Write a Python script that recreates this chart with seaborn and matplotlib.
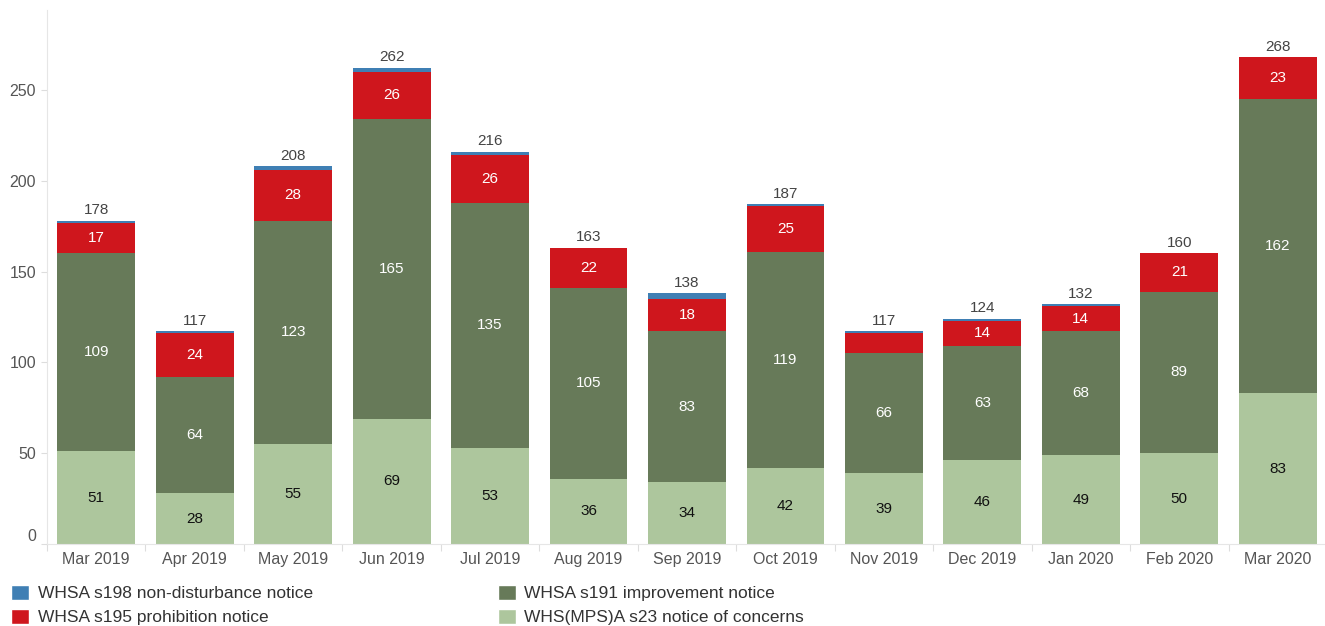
import matplotlib
matplotlib.use("Agg")
import matplotlib.pyplot as plt
from matplotlib.patches import Patch
import numpy as np
import pandas as pd
import seaborn as sns

months = ["Mar 2019", "Apr 2019", "May 2019", "Jun 2019", "Jul 2019", "Aug 2019",
          "Sep 2019", "Oct 2019", "Nov 2019", "Dec 2019", "Jan 2020", "Feb 2020", "Mar 2020"]
s23_concerns = [51, 28, 55, 69, 53, 36, 34, 42, 39, 46, 49, 50, 83]
s191_improvement = [109, 64, 123, 165, 135, 105, 83, 119, 66, 63, 68, 89, 162]
s195_prohibition = [17, 24, 28, 26, 26, 22, 18, 25, 11, 14, 14, 21, 23]
s198_nondisturbance = [1, 1, 2, 2, 2, 0, 3, 1, 1, 1, 1, 0, 0]

names = ["WHS(MPS)A s23 notice of concerns", "WHSA s191 improvement notice",
         "WHSA s195 prohibition notice", "WHSA s198 non-disturbance notice"]
colors = ["#adc69d", "#677a59", "#cf161d", "#3f7fb4"]
text_colors = ["#111111", "white", "white", "white"]

sns.set_theme(style="white")
plt.rcParams["font.family"] = ["Liberation Sans", "DejaVu Sans"]

df = pd.DataFrame({"month": months})
layers = [s23_concerns, s191_improvement, s195_prohibition, s198_nondisturbance]
cum = np.cumsum(np.array(layers), axis=0)

fig = plt.figure(figsize=(13.25, 6.26), dpi=100)
ax = fig.add_axes([47 / 1325, 82 / 626, 1280 / 1325, 534 / 626])

# stack by drawing cumulative totals from top to bottom
for i in range(3, -1, -1):
    df["v"] = cum[i]
    sns.barplot(data=df, x="month", y="v", color=colors[i], saturation=1,
                width=0.79, ax=ax, linewidth=0)

for j in range(len(months)):
    prev = 0
    for i, vals in enumerate(layers):
        v = vals[j]
        if v >= 12:
            ax.text(j, prev + v / 2, str(v), ha="center", va="center",
                    color=text_colors[i], fontsize=11)
        prev += v
    ax.text(j, cum[3][j] + 2, str(cum[3][j]), ha="center", va="bottom",
            color="#444444", fontsize=11)

ax.set_xlim(-0.5, len(months) - 0.5)
ax.set_ylim(0, 294)
ax.set_yticks([0, 50, 100, 150, 200, 250])
ax.set_xlabel("")
ax.set_ylabel("")
ax.tick_params(axis="y", colors="#dddddd", labelcolor="#555555", labelsize=11.5,
               length=4, width=0.8, left=True, pad=4)
ax.get_yticklabels()[0].set_va("bottom")
ax.set_xticks(range(len(months)))
ax.set_xticklabels(months, color="#555555", fontsize=11.5)
ax.tick_params(axis="x", length=0, pad=6)
ax.set_xticks(np.arange(-0.5, len(months), 1), minor=True)
ax.tick_params(axis="x", which="minor", length=5, color="#dddddd", width=0.8, bottom=True)
for side in ["top", "right"]:
    ax.spines[side].set_visible(False)
for side in ["left", "bottom"]:
    ax.spines[side].set_color("#e6e6e6")
    ax.spines[side].set_linewidth(0.8)

order = [3, 2, 1, 0]
handles = [Patch(facecolor=colors[i], label=names[i]) for i in order]
fig.legend(handles=handles, loc="upper left", bbox_to_anchor=(0.008, 0.066),
           ncol=2, frameon=False, fontsize=12.5, handlelength=1.05, handleheight=0.95,
           handletextpad=0.5, columnspacing=10.65, labelspacing=0.44,
           labelcolor="#333333", borderaxespad=0, borderpad=0)

fig.savefig("out.png", dpi=100)
